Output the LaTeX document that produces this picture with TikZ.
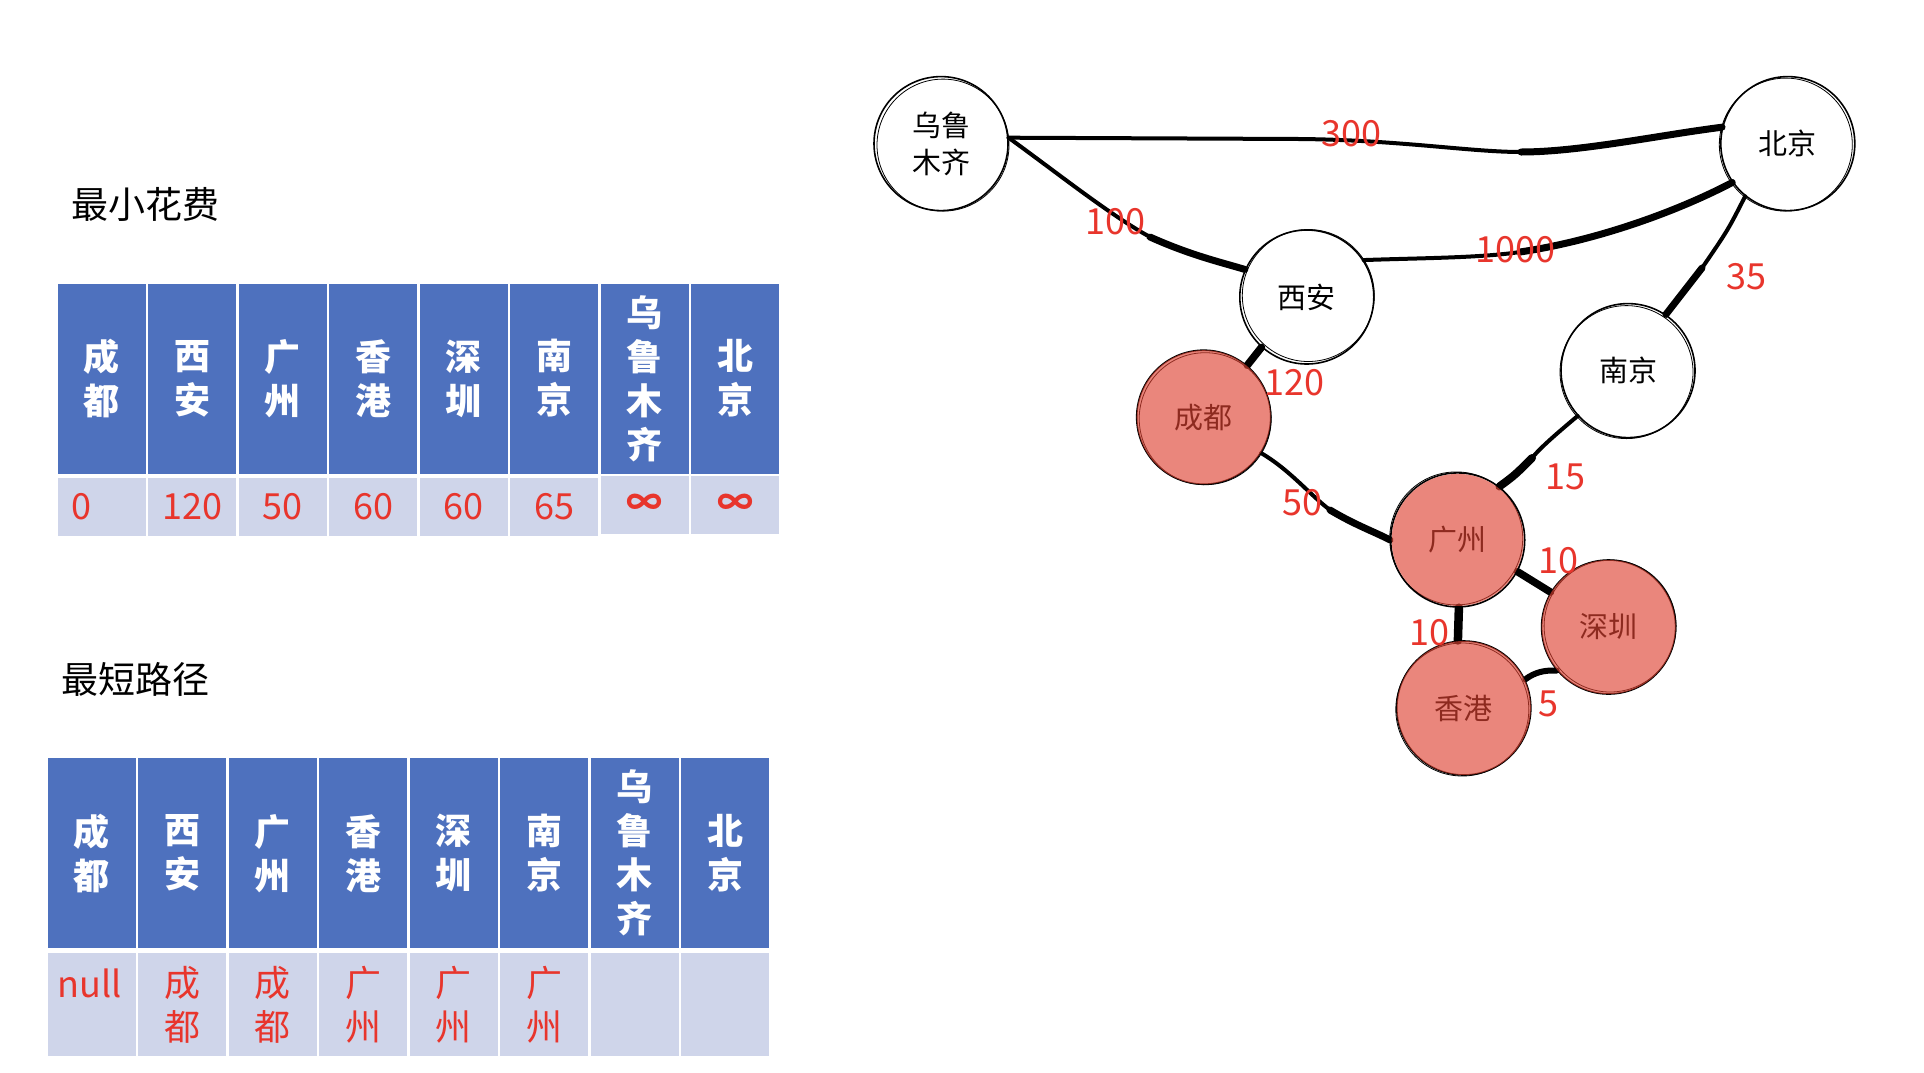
\documentclass[tikz,border=0pt]{standalone}
\usepackage{fontspec}
\setmainfont{Noto Sans CJK SC}
\definecolor{hdrblue}{HTML}{4E71BE}
\definecolor{rowgrey}{HTML}{CFD5EA}
\definecolor{redtxt}{HTML}{E8352C}
\definecolor{ovred}{HTML}{DE4232}
\tikzset{
  hdr/.style={fill=hdrblue, minimum width=88pt, minimum height=190pt, inner sep=0pt, text=white, align=center, font=\bfseries\fontsize{36}{44}\selectfont},
  valA/.style={fill=rowgrey, minimum width=88pt, minimum height=58pt, inner sep=0pt, text=redtxt, align=center, font=\fontsize{36}{44}\selectfont},
  valB/.style={fill=rowgrey, minimum width=88pt, minimum height=103pt, inner sep=0pt, text=redtxt, align=center, font=\fontsize{36}{44}\selectfont},
  redval/.style={text=redtxt, inner sep=0pt, font=\fontsize{36}{44}\selectfont},
  title/.style={anchor=west, inner sep=0pt, font=\fontsize{37}{44}\selectfont},
  city/.style={circle, minimum size=134pt, inner sep=0pt, draw=black, line width=1.6pt, align=center, font=\fontsize{29}{37}\selectfont},
  sk/.style={line width=0.8pt},
  edge/.style={line width=4pt, line cap=round, line join=round},
  thick edge/.style={line width=7pt, line cap=round, line join=round},
  elab/.style={text=redtxt, inner sep=0pt, font=\fontsize{36}{44}\selectfont},
  ov/.style={fill=ovred, fill opacity=0.64}
}
\begin{document}
\begin{tikzpicture}[x=1pt, y=-1pt]
\useasboundingbox (0,0) rectangle (1924,1072);

% ---------- titles ----------
\node[title] (t1) at (71,204) {最小花费};
\node[title] (t2) at (61,679) {最短路径};

% ---------- table 1 ----------
\node[hdr] (a1) at (101.7,378.5) {成\\都};
\node[hdr] (a2) at (192.2,378.5) {西\\安};
\node[hdr] (a3) at (282.7,378.5) {广\\州};
\node[hdr] (a4) at (373.2,378.5) {香\\港};
\node[hdr] (a5) at (463.7,378.5) {深\\圳};
\node[hdr] (a6) at (554.2,378.5) {南\\京};
\node[hdr] (a7) at (644.7,378.5) {乌\\鲁\\木\\齐};
\node[hdr] (a8) at (735.2,378.5) {北\\京};
\node[valA] (v1) at (101.7,507) {};
\node[valA] (v2) at (192.2,507) {120};
\node[valA] (v3) at (282.7,507) {50};
\node[valA] (v4) at (373.2,507) {60};
\node[valA] (v5) at (463.7,507) {60};
\node[valA] (v6) at (554.2,507) {65};
\node[valA, font=\bfseries\fontsize{36}{44}\selectfont] (v7) at (644.7,505) {∞};
\node[valA, font=\bfseries\fontsize{36}{44}\selectfont] (v8) at (735.2,505) {∞};
\node[redval] (v1t) at (81,507) {0};

% ---------- table 2 ----------
\node[hdr] (b1) at (91.9,853.3) {成\\都};
\node[hdr] (b2) at (182.4,853.3) {西\\安};
\node[hdr] (b3) at (272.9,853.3) {广\\州};
\node[hdr] (b4) at (363.4,853.3) {香\\港};
\node[hdr] (b5) at (453.9,853.3) {深\\圳};
\node[hdr] (b6) at (544.4,853.3) {南\\京};
\node[hdr] (b7) at (634.9,853.3) {乌\\鲁\\木\\齐};
\node[hdr] (b8) at (725.4,853.3) {北\\京};
\node[valB] (w1) at (91.9,1004.5) {};
\node[valB] (w2) at (182.4,1004.5) {成\\都};
\node[valB] (w3) at (272.9,1004.5) {成\\都};
\node[valB] (w4) at (363.4,1004.5) {广\\州};
\node[valB] (w5) at (453.9,1004.5) {广\\州};
\node[valB] (w6) at (544.4,1004.5) {广\\州};
\node[valB] (w7) at (634.9,1004.5) {};
\node[valB] (w8) at (725.4,1004.5) {};
\node[redval] (w1t) at (89.6,983) {null};

% ---------- graph nodes ----------
\node[city] (wlmq) at (941,143.6) {乌鲁\\木齐};
\node[city] (bj) at (1787.8,143.6) {北京};
\node[city] (xa) at (1306.8,297) {西安};
\node[city] (nj) at (1628,370.6) {南京};
\node[city] (cd) at (1203.7,417.2) {成都};
\node[city] (gz) at (1457.7,539.9) {广州};
\node[city] (sz) at (1608.6,627) {深圳};
\node[city] (hk) at (1463.8,708) {香港};

% sketchy second strokes
\draw[sk] ([shift={(2,1.5)}]wlmq.center) circle[radius=66];
\draw[sk] ([shift={(-2,1)}]bj.center) circle[radius=66.5];
\draw[sk] ([shift={(1.5,-1.5)}]xa.center) circle[radius=66];
\draw[sk] ([shift={(-1.5,1.5)}]nj.center) circle[radius=66.5];
\draw[sk] ([shift={(1.5,1.5)}]cd.center) circle[radius=66];
\draw[sk] ([shift={(-1.5,-1.5)}]gz.center) circle[radius=66.5];
\draw[sk] ([shift={(1.5,-1)}]sz.center) circle[radius=66];
\draw[sk] ([shift={(-1.5,1.5)}]hk.center) circle[radius=66.5];

% ---------- edges ----------
% 300
\draw[edge] (wlmq.5) -- (1300,139) .. controls (1400,140) and (1470,152) .. (1521,152);
\draw[thick edge] (1521,152) .. controls (1580,152) and (1660,135) .. (bj.166);
% 100
\draw[edge] (wlmq.5) .. controls (1060,175) and (1110,215) .. (1150,237);
\draw[thick edge] (1150,237) .. controls (1190,255) and (1220,262) .. (xa.156);
% 1000
\draw[edge] (xa.33) .. controls (1420,258) and (1480,258) .. (1520,252);
\draw[thick edge] (1520,252) .. controls (1600,240) and (1680,210) .. (bj.215);
% 35
\draw[edge] (bj.231) .. controls (1728,230) .. (1702,268);
\draw[thick edge] (1702,268) -- (nj.56);
% 120
\draw[line width=7.5pt, line cap=round] (xa.228) -- (cd.50);
% 50
\draw[edge] (cd.-32) .. controls (1290,470) and (1310,495) .. (1330,510);
\draw[thick edge] (1330,510) .. controls (1355,525) and (1375,532) .. (gz.180);
% 15
\draw[edge] (nj.222) .. controls (1555,435) and (1540,448) .. (1532,458);
\draw[line width=8pt, line cap=round] (1532,458) .. controls (1515,475) .. (gz.52);
% 10 gz-sz
\draw[line width=7.5pt, line cap=round] (gz.-28) -- (sz.149);
% 10 gz-hk
\draw[line width=8.5pt, line cap=round] (gz.-89) -- (hk.95);
% 5
\draw[line width=6pt, line cap=round] (hk.25) .. controls (1535,672) and (1545,670) .. (sz.220);

% ---------- red overlays (visited nodes) ----------
\fill[ov] (cd.center) circle[radius=67];
\fill[ov] (gz.center) circle[radius=66];
\fill[ov] (sz.center) circle[radius=67];
\fill[ov] (hk.center) circle[radius=67];

% ---------- edge labels ----------
\node[elab] (l300) at (1351,133.7) {300};
\node[elab] (l100) at (1115,222) {100};
\node[elab] (l1000) at (1515,250) {1000};
\node[elab] (l35) at (1746,277) {35};
\node[elab] (l120) at (1294.5,383) {120};
\node[elab] (l15) at (1565.7,477) {15};
\node[elab] (l50) at (1302,503) {50};
\node[elab] (l10a) at (1558,561) {10};
\node[elab] (l10b) at (1429.5,633) {10};
\node[elab] (l5) at (1548.5,704) {5};
\end{tikzpicture}
\end{document}
